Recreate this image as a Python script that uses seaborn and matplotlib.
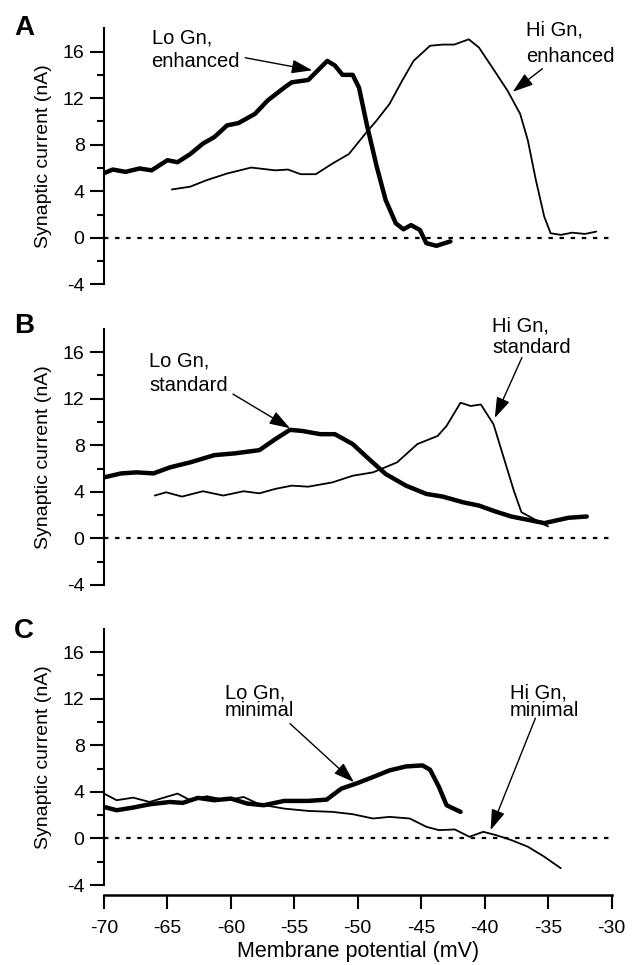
import numpy as np
import pandas as pd
import matplotlib
matplotlib.use("Agg")
import matplotlib.pyplot as plt
import seaborn as sns

# ---------------- data ----------------
A_lo_x = [-70.0, -69.3, -68.3, -67.2, -66.25, -65.0, -64.2, -63.2, -62.2, -61.3, -60.3, -59.4, -58.1, -57.1,
          -55.8, -55.2, -53.9, -52.95, -52.4, -51.8, -51.2, -50.4, -49.9, -49.3, -48.5, -47.8, -47.0, -46.4,
          -45.8, -45.1, -44.6, -43.8, -42.7]
A_lo_y = [5.56, 5.87, 5.67, 5.96, 5.8, 6.67, 6.5, 7.2, 8.1, 8.66, 9.66, 9.86, 10.65, 11.8, 12.9, 13.36, 13.56,
          14.6, 15.2, 14.8, 14.0, 14.0, 12.9, 9.8, 6.1, 3.25, 1.25, 0.74, 1.1, 0.68, -0.45, -0.68, -0.3]
A_hi_x = [-64.65, -63.2, -61.9, -60.3, -58.4, -56.5, -55.5, -54.5, -53.3, -52.0, -50.7, -49.4, -48.5, -47.5,
          -46.5, -45.6, -44.3, -43.3, -42.4, -41.25, -40.45, -39.5, -38.2, -37.2, -36.6, -35.96, -35.3, -34.8,
          -34.0, -33.1, -32.1, -31.2]
A_hi_y = [4.16, 4.4, 4.96, 5.53, 6.04, 5.8, 5.87, 5.47, 5.47, 6.38, 7.2, 8.95, 10.1, 11.5, 13.5, 15.2, 16.5,
          16.6, 16.6, 17.05, 16.35, 14.8, 12.65, 10.65, 8.4, 4.96, 1.82, 0.4, 0.26, 0.45, 0.34, 0.54]

B_lo_x = [-70.0, -68.65, -67.4, -66.1, -64.8, -63.2, -61.3, -59.7, -57.75, -56.5, -55.35, -54.4, -52.95, -51.8,
          -50.4, -49.1, -47.8, -46.2, -44.6, -43.3, -41.7, -40.45, -39.2, -37.9, -36.6, -35.3, -34.35, -33.4, -31.95]
B_lo_y = [5.24, 5.58, 5.67, 5.58, 6.1, 6.53, 7.15, 7.3, 7.58, 8.52, 9.32, 9.23, 8.95, 8.95, 8.1, 6.8, 5.53,
          4.53, 3.82, 3.59, 3.1, 2.82, 2.33, 1.88, 1.6, 1.31, 1.54, 1.77, 1.88]
B_hi_x = [-66.0, -65.1, -63.85, -62.2, -60.6, -59.0, -57.75, -56.5, -55.2, -53.9, -52.0, -50.4, -48.8, -46.9,
          -45.3, -43.7, -43.0, -41.9, -41.1, -40.3, -39.3, -38.5, -37.7, -37.1, -36.0, -35.0]
B_hi_y = [3.68, 3.96, 3.59, 4.05, 3.68, 4.05, 3.87, 4.25, 4.53, 4.44, 4.81, 5.38, 5.67, 6.53, 8.1, 8.8, 9.66,
          11.65, 11.37, 11.5, 9.8, 6.95, 4.1, 2.25, 1.6, 1.03]

C_lo_x = [-70.0, -69.0, -67.7, -66.4, -64.8, -63.8, -62.6, -61.3, -60.0, -58.7, -57.4, -55.8, -53.9, -52.45,
          -51.3, -50.0, -48.8, -47.5, -46.2, -44.9, -44.3, -43.6, -43.0, -41.9]
C_lo_y = [2.7, 2.42, 2.65, 2.93, 3.13, 3.05, 3.48, 3.28, 3.42, 2.99, 2.85, 3.22, 3.22, 3.33, 4.27, 4.76, 5.27,
          5.84, 6.18, 6.27, 5.9, 4.42, 2.85, 2.28]
C_hi_x = [-70.0, -69.0, -67.7, -66.4, -65.1, -64.2, -63.2, -61.9, -60.3, -59.0, -57.75, -55.8, -53.9, -52.0,
          -50.4, -48.8, -47.5, -45.9, -44.6, -43.6, -42.35, -41.2, -40.1, -39.1, -37.9, -36.6, -35.3, -34.0]
C_hi_y = [3.85, 3.28, 3.5, 3.13, 3.56, 3.85, 3.28, 3.62, 3.28, 3.56, 2.93, 2.56, 2.36, 2.28, 2.08, 1.71, 1.85,
          1.71, 1.0, 0.71, 0.77, 0.14, 0.57, 0.28, -0.14, -0.71, -1.57, -2.56]

panel_letters = ["A", "B", "C"]
conditions = ["enhanced", "standard", "minimal"]
y_ticks = [-4, 0, 4, 8, 12, 16]
x_ticks = [-70, -65, -60, -55, -50, -45, -40, -35, -30]
x_label = "Membrane potential (mV)"
y_label = "Synaptic current (nA)"

# annotation placement (data coords): text-left x, baseline of line1, baseline of line2, arrow tail, arrow head
ann = {
    "A": {"lo": (-66.25, 16.72, 14.67, (-58.87, 15.47), (-53.58, 14.39)),
          "hi": (-36.74, 17.38, 15.10, (-35.45, 14.53), (-37.79, 12.54))},
    "B": {"lo": (-66.45, 14.80, 12.65, (-59.83, 12.39), (-55.34, 9.46)),
          "hi": (-39.4, 17.80, 15.90, (-37.06, 15.53), (-39.2, 10.34))},
    "C": {"lo": (-60.47, 12.02, 10.51, (-55.34, 9.86), (-50.3, 4.83)),
          "hi": (-38.02, 12.02, 10.51, (-36.0, 10.32), (-39.53, 0.71))},
}

series = {
    "A": ((A_lo_x, A_lo_y), (A_hi_x, A_hi_y)),
    "B": ((B_lo_x, B_lo_y), (B_hi_x, B_hi_y)),
    "C": ((C_lo_x, C_lo_y), (C_hi_x, C_hi_y)),
}

# ---------------- style ----------------
sns.set_theme(style="ticks")
plt.rcParams["font.family"] = ["Liberation Sans", "DejaVu Sans"]
plt.rcParams["axes.linewidth"] = 1.5
for k in ("text.color", "axes.labelcolor", "xtick.color", "ytick.color", "axes.edgecolor"):
    plt.rcParams[k] = "black"

fig = plt.figure(figsize=(6.36, 9.65), dpi=100)
left, width, height = 0.1635, 0.798, 0.2655
bottoms = [0.7052, 0.3938, 0.0829]
letter_y = [0.9637, 0.6550, 0.3390]

for i, p in enumerate(panel_letters):
    ax = fig.add_axes([left, bottoms[i], width, height])
    (lx, ly), (hx, hy) = series[p]
    df_lo = pd.DataFrame({"V": lx, "I": ly})
    df_hi = pd.DataFrame({"V": hx, "I": hy})
    ax.axhline(0, color="black", lw=1.6, ls=(0, (2.0, 3.0)), zorder=1)
    sns.lineplot(data=df_hi, x="V", y="I", sort=False, estimator=None, color="black", lw=1.3, ax=ax, zorder=3,
                 solid_joinstyle="round", solid_capstyle="round")
    sns.lineplot(data=df_lo, x="V", y="I", sort=False, estimator=None, color="black", lw=3.2, ax=ax, zorder=4,
                 solid_joinstyle="round", solid_capstyle="round")

    ax.set_xlim(-70, -30)
    ax.set_ylim(-4, 18)
    ax.set_yticks(y_ticks)
    ax.set_yticklabels([str(t) for t in y_ticks])
    ax.set_yticks(np.arange(-2, 18, 4), minor=True)
    ax.tick_params(axis="y", which="major", length=10, width=1.5, labelsize=14, pad=4, color="black")
    ax.tick_params(axis="y", which="minor", length=5, width=1.5, color="black")
    ax.spines["top"].set_visible(False)
    ax.spines["right"].set_visible(False)
    ax.spines["left"].set_bounds(-4, 18)
    ax.spines["left"].set_color("black")
    ax.set_ylabel(y_label, fontsize=14, labelpad=8)

    if p == "C":
        ax.set_xticks(x_ticks)
        ax.set_xticklabels([str(t) for t in x_ticks])
        ax.spines["bottom"].set_position(("outward", 7))
        ax.spines["bottom"].set_color("black")
        ax.spines["bottom"].set_linewidth(1.8)
        ax.tick_params(axis="x", which="major", length=10, width=1.5, labelsize=14, pad=8, color="black")
        ax.set_xlabel(x_label, fontsize=15.5, labelpad=3)
    else:
        ax.spines["bottom"].set_visible(False)
        ax.set_xticks([])
        ax.set_xlabel("")

    cond = conditions[i]
    for key, name in (("lo", "Lo Gn,"), ("hi", "Hi Gn,")):
        tx, b1, b2, tail, head = ann[p][key]
        ax.text(tx, b1, name, fontsize=14.5, ha="left", va="baseline", clip_on=False)
        ax.text(tx, b2, cond, fontsize=14.5, ha="left", va="baseline", clip_on=False)
        ax.annotate("", xy=head, xytext=tail, annotation_clip=False,
                    arrowprops=dict(arrowstyle="-|>,head_length=0.9,head_width=0.3", color="black",
                                    lw=1.0, mutation_scale=14, shrinkA=0, shrinkB=0))

    fig.text(0.022, letter_y[i], p, fontsize=20, fontweight="bold", ha="left", va="baseline")

fig.savefig("out.png", dpi=100)
